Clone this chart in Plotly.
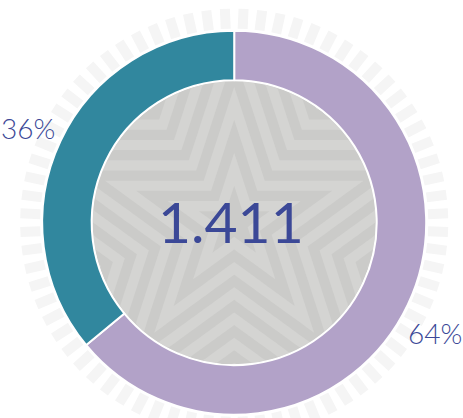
import numpy as np
import plotly.graph_objects as go

# ---- data ----
labels = ["A", "B"]
values = [64, 36]
slice_colors = ["#b2a2c8", "#31879e"]
center_value = "1.411"

# ---- geometry (pixels) ----
W, H = 463, 418
CX, CY = 234.2, 222.7
R_OUT = 192.0
R_IN = 142.5
R_DISC = 141.5
TEXT_COLOR = "#3b4897"


def px(x):
    return x / W


def py(y):
    return 1 - y / H


def path_from_pts(pts):
    return "M " + " L ".join(f"{px(x):.5f},{py(y):.5f}" for x, y in pts) + " Z"


def polar_pt(r, theta_deg):
    t = np.radians(theta_deg)
    return CX + r * np.sin(t), CY - r * np.cos(t)


shapes = []

# faint radial dashes ring behind the donut
N_DASH = 72
for i in range(N_DASH):
    th = i * 360 / N_DASH + 2.5
    t = np.radians(th)
    u = np.array([np.sin(t), -np.cos(t)])
    v = np.array([np.cos(t), np.sin(t)])
    c = np.array([CX, CY])
    hw = 5.0
    r1, r2 = 194, 214
    pts = [c + r1 * u - hw * v, c + r2 * u - hw * v, c + r2 * u + hw * v, c + r1 * u + hw * v]
    shapes.append(dict(type="path", xref="paper", yref="paper", layer="below",
                       path=path_from_pts(pts), fillcolor="#f5f5f5", line=dict(width=0)))

# gray disc in the hole
shapes.append(dict(type="circle", xref="paper", yref="paper", layer="below",
                   x0=px(CX - R_DISC), x1=px(CX + R_DISC),
                   y0=py(CY + R_DISC), y1=py(CY - R_DISC),
                   fillcolor="#cbcbc9", line=dict(width=0)))


# concentric pentagram bands, clipped to the disc
def star_r(theta, a):
    b = a * 0.381966
    out = np.empty_like(theta)
    for idx, th in enumerate(theta):
        k = int(np.floor(th / 36.0)) % 10
        p1a, p2a = 36.0 * k, 36.0 * (k + 1)
        r1, r2 = (a, b) if k % 2 == 0 else (b, a)
        P1 = np.array([r1 * np.cos(np.radians(p1a)), r1 * np.sin(np.radians(p1a))])
        P2 = np.array([r2 * np.cos(np.radians(p2a)), r2 * np.sin(np.radians(p2a))])
        d = np.array([np.cos(np.radians(th)), np.sin(np.radians(th))])
        e = P2 - P1
        num = P1[0] * e[1] - P1[1] * e[0]
        den = d[0] * e[1] - d[1] * e[0]
        out[idx] = num / den
    return out


thetas = np.concatenate([np.linspace(36 * k, 36 * (k + 1), 30, endpoint=False) for k in range(10)])
step = 33.0
a_vals = np.arange(400, 5, -step)
band_cols = ["#d4d4d2", "#cbcbc9"]
for j, a in enumerate(a_vals):
    rr = np.minimum(star_r(thetas, a), R_DISC)
    pts = [polar_pt(r, th) for r, th in zip(rr, thetas)]
    shapes.append(dict(type="path", xref="paper", yref="paper", layer="below",
                       path=path_from_pts(pts), fillcolor=band_cols[j % 2], line=dict(width=0)))

fig = go.Figure()
fig.add_trace(go.Pie(
    labels=labels, values=values, sort=False, direction="clockwise", rotation=0,
    hole=R_IN / R_OUT, marker=dict(colors=slice_colors, line=dict(color="white", width=2)),
    textinfo="none", hoverinfo="skip", showlegend=False,
    domain=dict(x=[px(CX - R_OUT), px(CX + R_OUT)], y=[py(CY + R_OUT), py(CY - R_OUT)]),
))

annotations = [dict(text=center_value, x=px(CX - 3), y=py(CY - 2), xref="paper", yref="paper",
                    showarrow=False, xanchor="center", yanchor="middle",
                    font=dict(family="Lato", size=57, color=TEXT_COLOR))]

total = sum(values)
cum = 0
label_nudge = [(-4, 14), (-2, 2)]
for v, (dx, dy) in zip(values, label_nudge):
    mid = (cum + v / 2) / total * 360
    cum += v
    lx, ly = polar_pt(226, mid)
    annotations.append(dict(text=f"{round(v / total * 100)}%", x=px(lx + dx), y=py(ly + dy),
                            xref="paper", yref="paper", showarrow=False,
                            xanchor="center", yanchor="middle",
                            font=dict(family="Lato", size=28, color=TEXT_COLOR, weight=300)))

fig.update_layout(width=W, height=H, margin=dict(l=0, r=0, t=0, b=0),
                  paper_bgcolor="white", plot_bgcolor="white",
                  shapes=shapes, annotations=annotations)
fig.write_html("out.html", config={"displayModeBar": False},
               post_script="document.body.style.margin='0px';document.body.style.overflow='hidden';")
